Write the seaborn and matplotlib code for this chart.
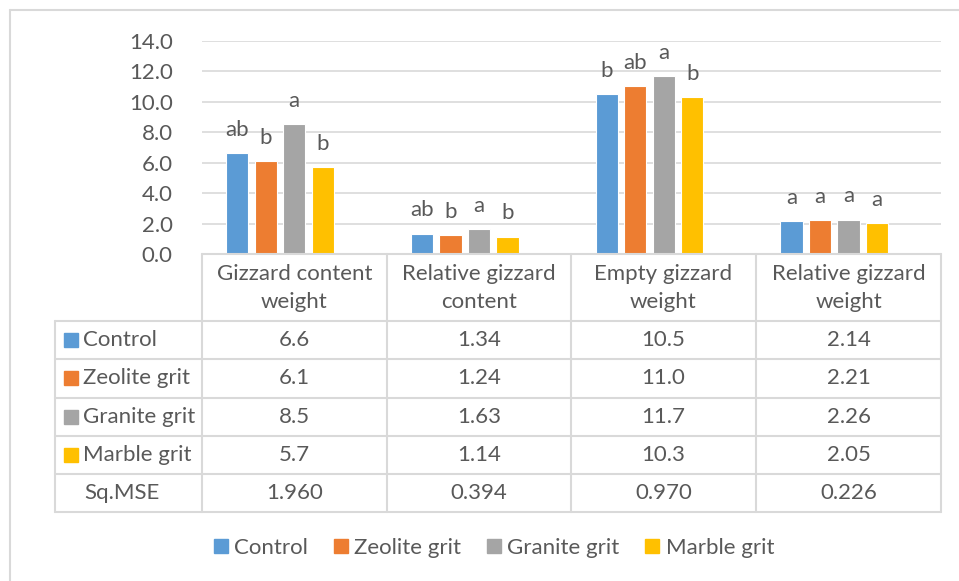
import matplotlib
matplotlib.use("Agg")
import matplotlib.pyplot as plt
from matplotlib.lines import Line2D
from matplotlib.patches import Rectangle
import pandas as pd
import seaborn as sns

# данные
traits = ["Gizzard content\nweight", "Relative gizzard\ncontent", "Empty gizzard\nweight", "Relative gizzard\nweight"]
groups = ["Control", "Zeolite grit", "Granite grit", "Marble grit"]
control = [6.6, 1.34, 10.5, 2.14]
zeolite = [6.1, 1.24, 11.0, 2.21]
granite = [8.5, 1.63, 11.7, 2.26]
marble = [5.7, 1.14, 10.3, 2.05]
sq_mse = [1.960, 0.394, 0.970, 0.226]
decimals = [1, 2, 1, 2]
letters = [
    ["ab", "ab", "b", "a"],  # Control
    ["b", "b", "ab", "a"],   # Zeolite grit
    ["a", "a", "a", "a"],    # Granite grit
    ["b", "b", "b", "a"],    # Marble grit
]
colors = ["#5B9BD5", "#ED7D31", "#A5A5A5", "#FFC000"]

series = [control, zeolite, granite, marble]
df = pd.DataFrame({
    "trait": [t for _ in groups for t in traits],
    "group": [g for g in groups for _ in traits],
    "value": [v for s in series for v in s],
})

sns.set_style("white")
plt.rcParams["font.family"] = ["Lato", "DejaVu Sans"]
txt = "#595959"
grid = "#D9D9D9"
fs = 16

W, H = 959, 581
fx = lambda px: px / W
fy = lambda py: 1 - py / H

fig = plt.figure(figsize=(W / 100, H / 100), dpi=100)
x0, x1, ytop, y0 = 202, 941, 40.7, 254
ax = fig.add_axes([fx(x0), fy(y0), fx(x1) - fx(x0), (y0 - ytop) / H])

sns.barplot(data=df, x="trait", y="value", hue="group", palette=colors,
            saturation=1, width=0.617, gap=0.22, edgecolor="white",
            linewidth=0.8, errorbar=None, ax=ax)
ax.get_legend().remove()
ax.set_ylim(0, 14)
# группы столбцов в оригинале сдвинуты влево относительно колонок таблицы
ax.set_xlim(-0.422, 3.578)
ax.set_yticks(range(0, 15, 2))
ax.set_yticklabels([f"{v:.1f}" for v in range(0, 15, 2)])
ax.tick_params(axis="y", length=0, pad=21, labelsize=fs, labelcolor=txt)
ax.set_xticks([])
ax.set_xlabel("")
ax.set_ylabel("")
ax.yaxis.grid(True, color=grid, linewidth=1.2)
ax.set_axisbelow(True)
for s in ax.spines.values():
    s.set_visible(False)

for cont, labs in zip(ax.containers, letters):
    ax.bar_label(cont, labels=labs, padding=9.5, fontsize=fs, color=txt)

# таблица под графиком
col_x = [202, 386.7, 571, 756, 941]
row_y = [254, 321, 359, 397.7, 435.7, 474, 512]
lw = 1.5
for y in row_y[1:]:
    fig.add_artist(Line2D([fx(55), fx(941)], [fy(y), fy(y)], color=grid, lw=lw))
fig.add_artist(Line2D([fx(202), fx(941)], [fy(254), fy(254)], color=grid, lw=lw))
for x in col_x:
    fig.add_artist(Line2D([fx(x), fx(x)], [fy(254), fy(512)], color=grid, lw=lw))
fig.add_artist(Line2D([fx(55), fx(55)], [fy(321), fy(512)], color=grid, lw=lw))

for j, t in enumerate(traits):
    cx = (col_x[j] + col_x[j + 1]) / 2
    fig.text(fx(cx), fy(288), t, ha="center", va="center", fontsize=fs,
             color=txt, linespacing=1.5)

for i, (g, s) in enumerate(zip(groups, series)):
    cy = (row_y[i + 1] + row_y[i + 2]) / 2
    fig.add_artist(Rectangle((fx(64), fy(cy + 7)), 14 / W, 14 / H,
                             color=colors[i], transform=fig.transFigure))
    fig.text(fx(83), fy(cy), g, ha="left", va="center", fontsize=fs, color=txt)
    for j, v in enumerate(s):
        cx = (col_x[j] + col_x[j + 1]) / 2
        fig.text(fx(cx), fy(cy), f"{v:.{decimals[j]}f}", ha="center",
                 va="center", fontsize=fs, color=txt)

cy = (row_y[5] + row_y[6]) / 2
fig.text(fx(84), fy(cy), "Sq.MSE", ha="left", va="center", fontsize=fs, color=txt)
for j, v in enumerate(sq_mse):
    cx = (col_x[j] + col_x[j + 1]) / 2
    fig.text(fx(cx), fy(cy), f"{v:.3f}", ha="center", va="center",
             fontsize=fs, color=txt)

# легенда
handles = [Rectangle((0, 0), 1, 1, color=c) for c in colors]
fig.legend(handles, groups, loc="center", bbox_to_anchor=(fx(494), fy(548)),
           ncol=4, frameon=False, fontsize=fs, labelcolor=txt,
           handlelength=0.62, handleheight=0.62, handletextpad=0.3,
           columnspacing=1.15)

# рамка диаграммы
fig.add_artist(Line2D([fx(10), fx(10)], [fy(10), 0], color=grid, lw=1.5))
fig.add_artist(Line2D([fx(10), 1], [fy(10), fy(10)], color=grid, lw=1.5))

fig.savefig("out.png", dpi=100)
